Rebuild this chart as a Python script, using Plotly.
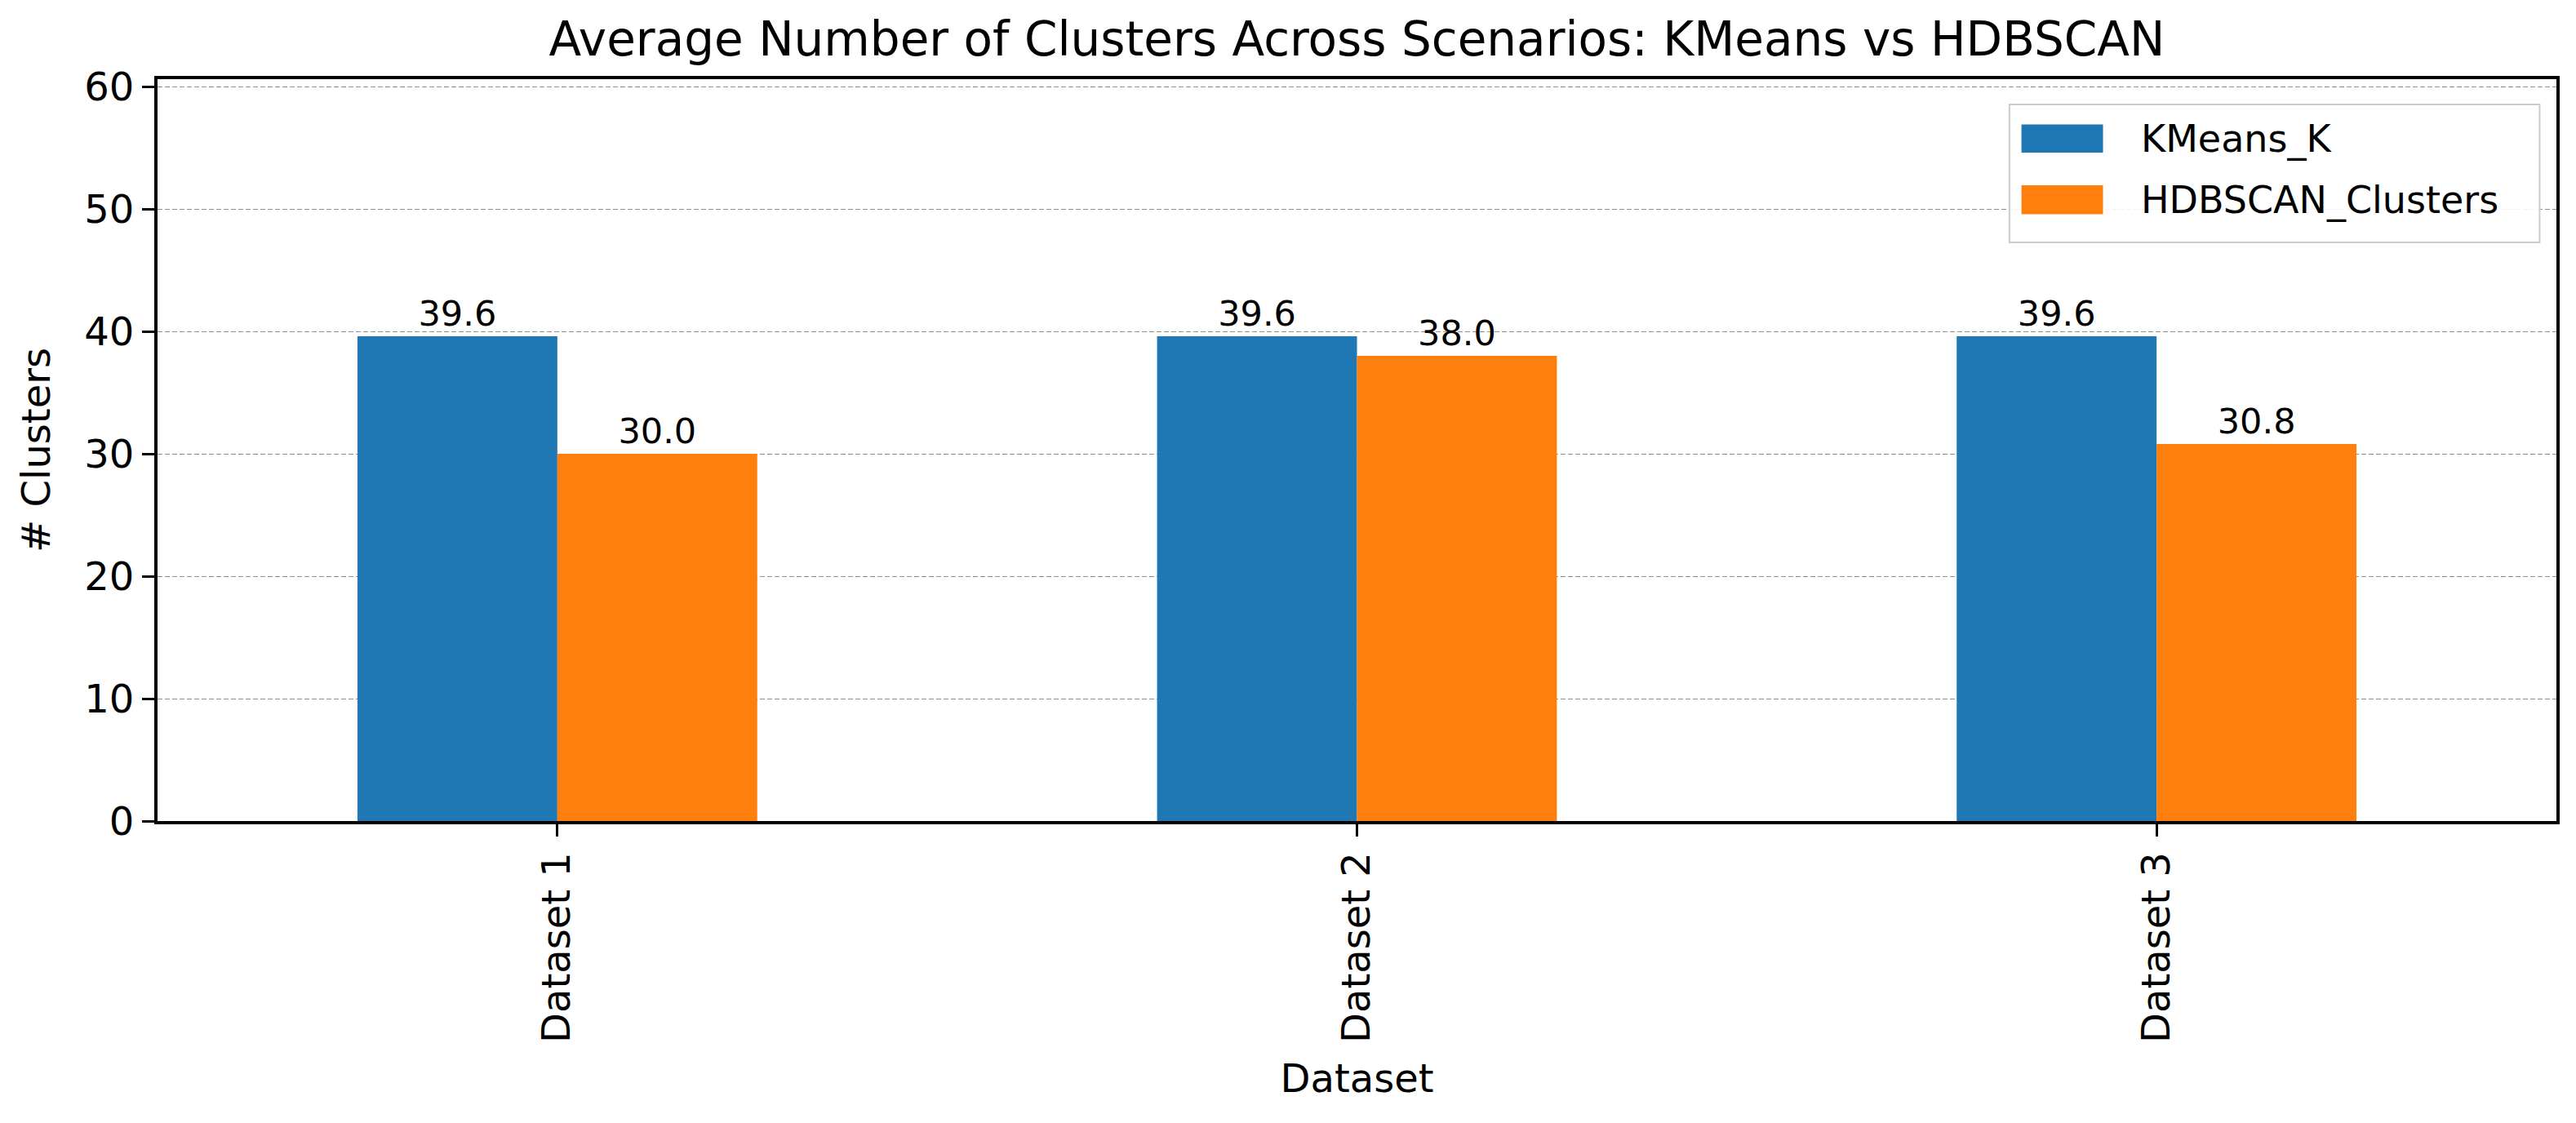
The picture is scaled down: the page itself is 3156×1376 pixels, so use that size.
import plotly.graph_objects as go

# ---- data ----
datasets = ["Dataset 1", "Dataset 2", "Dataset 3"]
series_names = ["KMeans_K", "HDBSCAN_Clusters"]
kmeans_k = [39.6, 39.6, 39.6]
hdbscan_clusters = [30.0, 38.0, 30.8]
series_colors = ["#1f77b4", "#ff7f0e"]
y_ticks = [0, 10, 20, 30, 40, 50, 60]

title_text = "Average Number of Clusters Across Scenarios: KMeans vs HDBSCAN"
x_title = "Dataset"
y_title = "# Clusters"

FONT = "DejaVu Sans, Verdana, sans-serif"
W, H = 3156, 1376
ML, MR, MT, MB = 193, 24, 97, 370

fig = go.Figure()
for name, vals, col in zip(series_names, [kmeans_k, hdbscan_clusters], series_colors):
    fig.add_trace(go.Bar(
        x=datasets, y=vals, name=name,
        marker=dict(color=col, line=dict(width=0)),
        text=[f"{v:.1f}" for v in vals],
        textposition="outside",
        textfont=dict(size=43, color="black", family=FONT),
        cliponaxis=False,
        showlegend=False,
    ))

# manual legend (patches + labels) to match the large matplotlib legend
shapes = [dict(type="rect", xref="paper", yref="paper",
               x0=0.772, x1=0.993, y0=0.780, y1=0.966,
               line=dict(color="#cccccc", width=2), fillcolor="rgba(255,255,255,0.9)",
               layer="above")]
annotations = []
rows = [(0.901, 0.939), (0.818, 0.857)]
for (y0, y1), name, col in zip(rows, series_names, series_colors):
    shapes.append(dict(type="rect", xref="paper", yref="paper",
                       x0=0.777, x1=0.811, y0=y0, y1=y1,
                       line=dict(width=0), fillcolor=col, layer="above"))
    annotations.append(dict(xref="paper", yref="paper", x=0.826, y=(y0 + y1) / 2,
                            xanchor="left", yanchor="middle", showarrow=False,
                            text=name, font=dict(size=46, color="black", family=FONT)))

fig.update_layout(
    width=W, height=H,
    margin=dict(l=ML, r=MR, t=MT, b=MB),
    paper_bgcolor="white", plot_bgcolor="white",
    barmode="group", bargap=0.5, bargroupgap=0.0,
    font=dict(family=FONT, color="black", size=48),
    title=dict(text=title_text, x=(ML + (W - MR)) / 2 / W, xanchor="center",
               y=1 - 48 / H, yanchor="middle", yref="container",
               font=dict(size=58, color="black", family=FONT)),
    shapes=shapes,
    annotations=annotations,
    showlegend=False,
)

fig.update_xaxes(
    title=dict(text=x_title, font=dict(size=48), standoff=28),
    tickangle=-90, tickfont=dict(size=48),
    showline=True, linecolor="black", linewidth=4, mirror=True,
    ticks="outside", ticklen=15, tickwidth=3, tickcolor="black",
    showgrid=False, zeroline=False, range=[-0.5, 2.5],
)
fig.update_yaxes(
    title=dict(text=y_title, font=dict(size=48), standoff=28),
    range=[0, 60.6], tickvals=y_ticks, tickfont=dict(size=48),
    showline=True, linecolor="black", linewidth=4, mirror=True,
    ticks="outside", ticklen=15, tickwidth=3, tickcolor="black",
    showgrid=True, gridcolor="rgba(70,70,70,0.6)", gridwidth=1.2, griddash="6px,3px",
    zeroline=False, layer="above traces",
)

fig.write_html("out.html")
